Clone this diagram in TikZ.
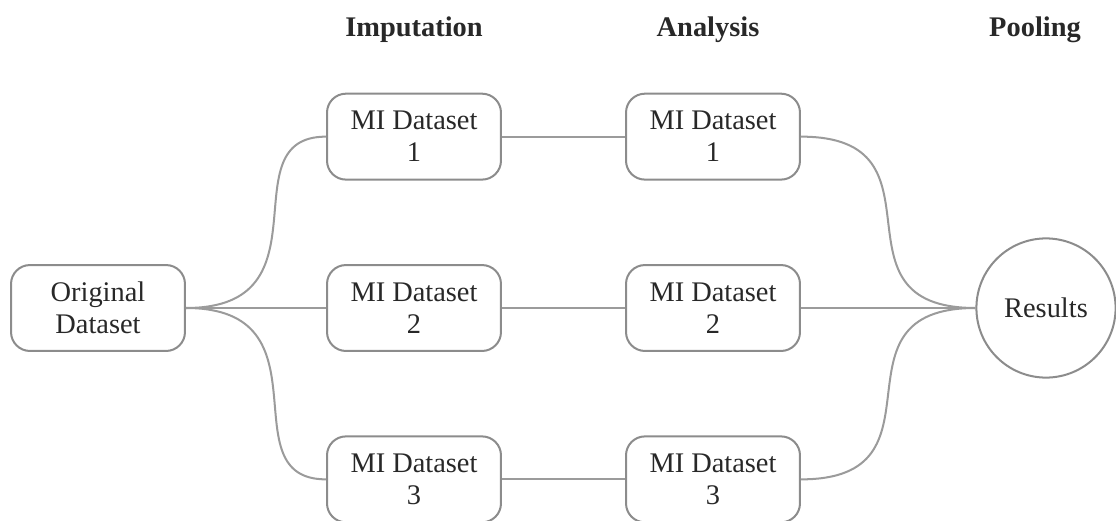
\documentclass[tikz,border=0pt]{standalone}
\usepackage{fontspec}
\setmainfont{Liberation Serif}
\usepackage{xcolor}
\usepackage{tikz}
\usetikzlibrary{positioning}

\definecolor{boxgray}{RGB}{140,140,140}
\definecolor{linegray}{RGB}{155,155,155}
\definecolor{textgray}{RGB}{40,40,40}

\begin{document}
\begin{tikzpicture}[x=0.4225pt,y=-0.4225pt,node distance=72.4pt,
    dataset/.style={draw=boxgray,line width=0.85pt,rounded corners=8pt,minimum width=73.5pt,minimum height=36.3pt,align=center,text=textgray,font=\fontsize{12}{13.5}\selectfont},
    result/.style={draw=boxgray,line width=0.85pt,circle,minimum size=58.8pt,inner sep=0pt,text=textgray,font=\fontsize{12}{13.5}\selectfont},
    stage/.style={anchor=base,text=textgray,font=\fontsize{12}{13.5}\selectfont\bfseries},
    link/.style={draw=linegray,line width=0.85pt}]
		\useasboundingbox (0,0) rectangle (1116,521);
		% stage titles
		\node[stage] (himp) at (414,37) {Imputation};
		\node[stage] (hana) at (708,37) {Analysis};
		\node[stage] (hpool) at (1035,37) {Pooling};
		% datasets
		\node[dataset] (orig) at (98,308) {Original\\Dataset};
		\node[dataset] (imp2) at (414,308) {MI Dataset\\2};
		\node[dataset] (imp1)[above of=imp2] {MI Dataset\\1};
		\node[dataset] (imp3)[below of=imp2] {MI Dataset\\3};
		\node[dataset] (ana2) at (713,308) {MI Dataset\\2};
		\node[dataset] (ana1)[above of=ana2] {MI Dataset\\1};
		\node[dataset] (ana3)[below of=ana2] {MI Dataset\\3};
		\node[result] (res) at (1046,308) {Results};
		\path[link]
		(orig.east) edge[out=0,in=180,out distance=62pt,in distance=42pt] (imp1.west)
		            edge (imp2.west)
		            edge[out=0,in=180,out distance=62pt,in distance=42pt] (imp3.west)
		(imp1.east) edge (ana1.west)
		(imp2.east) edge (ana2.west)
		(imp3.east) edge (ana3.west)
		(ana1.east) edge[out=0,in=180,out distance=65pt,in distance=65pt] (res.west)
		(ana2.east) edge (res.west)
		(ana3.east) edge[out=0,in=180,out distance=65pt,in distance=65pt] (res.west);
	\end{tikzpicture}
\end{document}
